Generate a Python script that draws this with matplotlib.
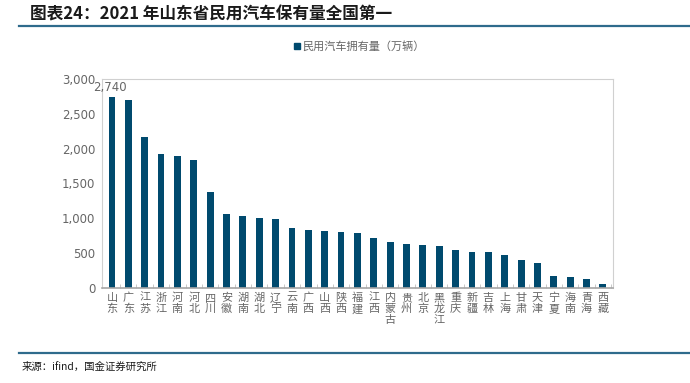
import matplotlib.pyplot as plt
import numpy as np
from matplotlib.lines import Line2D

plt.rcParams['font.family'] = ['Noto Sans CJK SC', 'DejaVu Sans']

provinces = ['山东', '广东', '江苏', '浙江', '河南', '河北', '四川', '安徽', '湖南', '湖北',
             '辽宁', '云南', '广西', '山西', '陕西', '福建', '江西', '内蒙古', '贵州', '北京',
             '黑龙江', '重庆', '新疆', '吉林', '上海', '甘肃', '天津', '宁夏', '海南', '青海', '西藏']
cars = [2740, 2700, 2170, 1920, 1890, 1840, 1375, 1055, 1030, 1005,
        995, 862, 828, 818, 800, 790, 712, 658, 630, 615,
        597, 540, 522, 520, 467, 403, 360, 177, 162, 133, 61]

bar_color = '#004a6e'
grey = '#666666'

fig = plt.figure(figsize=(6.9, 3.83), dpi=100)
ax = fig.add_axes([0.148, 0.248, 0.740, 0.546])

x = np.arange(len(provinces))
ax.bar(x, cars, width=0.42, color=bar_color)
ax.text(x[0] - 0.1, cars[0] + 40, '{:,}'.format(cars[0]), ha='center', va='bottom',
        fontsize=8.5, color=grey, family='DejaVu Sans')

ax.set_xlim(-0.6, len(provinces) - 0.4)
ax.set_ylim(0, 3000)
ax.set_yticks(np.arange(0, 3001, 500))
ax.set_yticklabels(['{:,}'.format(v) for v in range(0, 3001, 500)], family='DejaVu Sans')
ax.set_xticks(x)
ax.set_xticklabels([])
# vertical category labels, one character per row
for i, name in enumerate(provinces):
    for j, ch in enumerate(name):
        ax.annotate(ch, xy=(x[i], 0), xycoords=('data', 'axes fraction'),
                    xytext=(0, -3.5 - j * 8), textcoords='offset points',
                    ha='center', va='top', fontsize=8, color=grey)
ax.set_xticks(np.arange(len(provinces)) + 0.5, minor=True)
ax.tick_params(axis='x', which='major', length=0)
ax.tick_params(axis='x', which='minor', length=3, direction='in', color='#bfbfbf')
ax.tick_params(axis='y', length=0, labelsize=8.5, labelcolor=grey, pad=5)

for side in ['left', 'top', 'right']:
    ax.spines[side].set_color('#d0d0d0')
ax.spines['bottom'].set_color('#a6a6a6')
ax.spines['bottom'].set_linewidth(1.2)

handle = Line2D([], [], marker='s', linestyle='', color=bar_color, markersize=5)
fig.legend([handle], ['民用汽车拥有量（万辆）'], loc='center', bbox_to_anchor=(0.52, 0.88),
           frameon=False, fontsize=8, labelcolor=grey, handletextpad=0.1, handlelength=0.8)

fig.text(0.043, 0.963, '图表24：2021 年山东省民用汽车保有量全国第一', fontsize=12,
         fontweight='bold', style='italic', color='#1a1a1a', va='center')
fig.add_artist(Line2D([0.028, 1.0], [0.932, 0.932], color='#2f6b8c', lw=1.6))
fig.add_artist(Line2D([0.028, 1.0], [0.078, 0.078], color='#2f6b8c', lw=1.6))
fig.text(0.032, 0.042, '来源：ifind，国金证券研究所', fontsize=7.5, color='#1a1a1a', va='center')

fig.savefig('out.png', dpi=100)
